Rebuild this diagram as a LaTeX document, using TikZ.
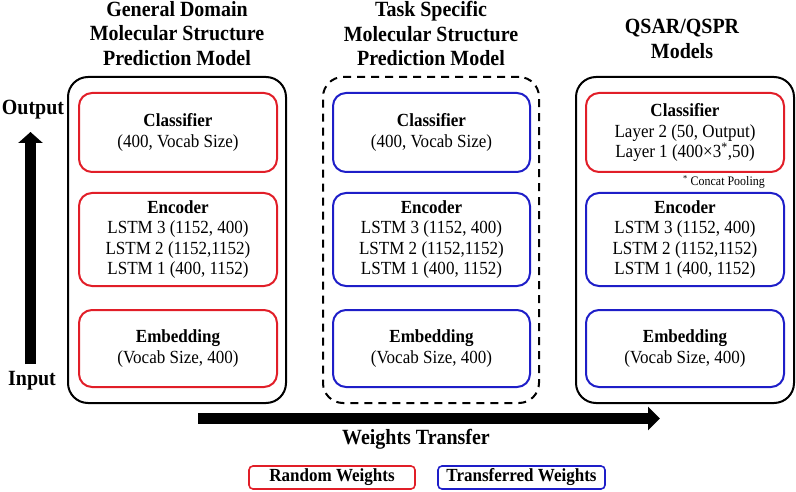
\documentclass[tikz,border=0pt]{standalone}
\usepackage{fontspec}
\setmainfont[FakeStretch=0.92]{Liberation Serif}
\usetikzlibrary{arrows.meta}
\definecolor{rwred}{RGB}{225,30,40}
\definecolor{twblue}{RGB}{30,30,200}
\tikzset{
  outerbox/.style={draw=black, line width=2pt, rounded corners=20pt},
  dashbox/.style={draw=black, line width=2pt, rounded corners=20pt, dash pattern=on 8pt off 6pt},
  layerbox/.style={line width=2pt, rounded corners=13pt, align=center, inner sep=0pt,
     font=\fontsize{18.5}{20.5}\selectfont},
  redbox/.style={layerbox, draw=rwred},
  bluebox/.style={layerbox, draw=twblue},
  title/.style={align=center, font=\fontsize{21.7}{24.5}\selectfont\bfseries},
  bigtext/.style={inner sep=0pt, font=\fontsize{21.7}{24}\selectfont\bfseries},
  legend/.style={line width=1.6pt, rounded corners=4pt, inner sep=0pt, minimum height=23pt,
     font=\fontsize{18.5}{20}\selectfont\bfseries},
  bigarrow/.style={line width=11pt, draw=black}
}
\begin{document}
\begin{tikzpicture}[x=1pt,y=-1pt]
\useasboundingbox (0,0) rectangle (796,492);
% outer panels
\node[outerbox, minimum width=218pt, minimum height=326pt] (p1) at (177,240) {};
\node[dashbox, minimum width=216pt, minimum height=326pt] (p2) at (431,240) {};
\node[outerbox, minimum width=218pt, minimum height=326pt] (p3) at (685,240) {};
% titles
\node[title] (t1) at (177,33.5) {General Domain\\Molecular Structure\\Prediction Model};
\node[title] (t2) at (431,33.5) {Task Specific\\Molecular Structure\\Prediction Model};
\node[title] (t3) at (682,39) {QSAR/QSPR\\Models};
% panel 1
\node[redbox, minimum width=198pt, minimum height=79pt] (c1) at (178,132.5) {\textbf{Classifier}\\(400, Vocab Size)};
\node[redbox, minimum width=198pt, minimum height=93pt] (e1) at (178,239.5) {\textbf{Encoder}\\LSTM 3 (1152, 400)\\LSTM 2 (1152,1152)\\LSTM 1 (400, 1152)};
\node[redbox, minimum width=198pt, minimum height=77pt] (m1) at (178,348.5) {\textbf{Embedding}\\(Vocab Size, 400)};
% panel 2
\node[bluebox, minimum width=197pt, minimum height=79pt] (c2) at (431.5,132.5) {\textbf{Classifier}\\(400, Vocab Size)};
\node[bluebox, minimum width=197pt, minimum height=93pt] (e2) at (431.5,239.5) {\textbf{Encoder}\\LSTM 3 (1152, 400)\\LSTM 2 (1152,1152)\\LSTM 1 (400, 1152)};
\node[bluebox, minimum width=197pt, minimum height=77pt] (m2) at (431.5,348.5) {\textbf{Embedding}\\(Vocab Size, 400)};
% panel 3
\node[redbox, minimum width=198pt, minimum height=79pt] (c3) at (685,132.5) {\textbf{Classifier}\\Layer 2 (50, Output)\\Layer 1 (400×3\textsuperscript{*},50)};
\node[font=\fontsize{13}{14}\selectfont, anchor=east, inner sep=0pt] (cp) at (765,182) {\textsuperscript{*} Concat Pooling};
\node[bluebox, minimum width=198pt, minimum height=93pt] (e3) at (685,239.5) {\textbf{Encoder}\\LSTM 3 (1152, 400)\\LSTM 2 (1152,1152)\\LSTM 1 (400, 1152)};
\node[bluebox, minimum width=198pt, minimum height=77pt] (m3) at (685,348.5) {\textbf{Embedding}\\(Vocab Size, 400)};
% output/input
\node[bigtext] (out) at (33,110) {Output};
\node[bigtext] (inp) at (32,381) {Input};
\coordinate (vin) at (30.5,364);
\coordinate (vout) at (30.5,132);
\draw[bigarrow, -{Triangle[length=11pt,width=24pt]}] (vin) -- (vout);
% weights transfer
\coordinate (hs) at (198,418.5);
\coordinate (he) at (660,418.5);
\draw[bigarrow, -{Triangle[length=12pt,width=23pt]}] (hs) -- (he);
\node[bigtext] (wt) at (416,439) {Weights Transfer};
% legend
\node[legend, draw=rwred, minimum width=166pt] (lr) at (332,477.5) {Random Weights};
\node[legend, draw=twblue, minimum width=167pt] (lb) at (521.5,477.5) {Transferred Weights};
\end{tikzpicture}
\end{document}
